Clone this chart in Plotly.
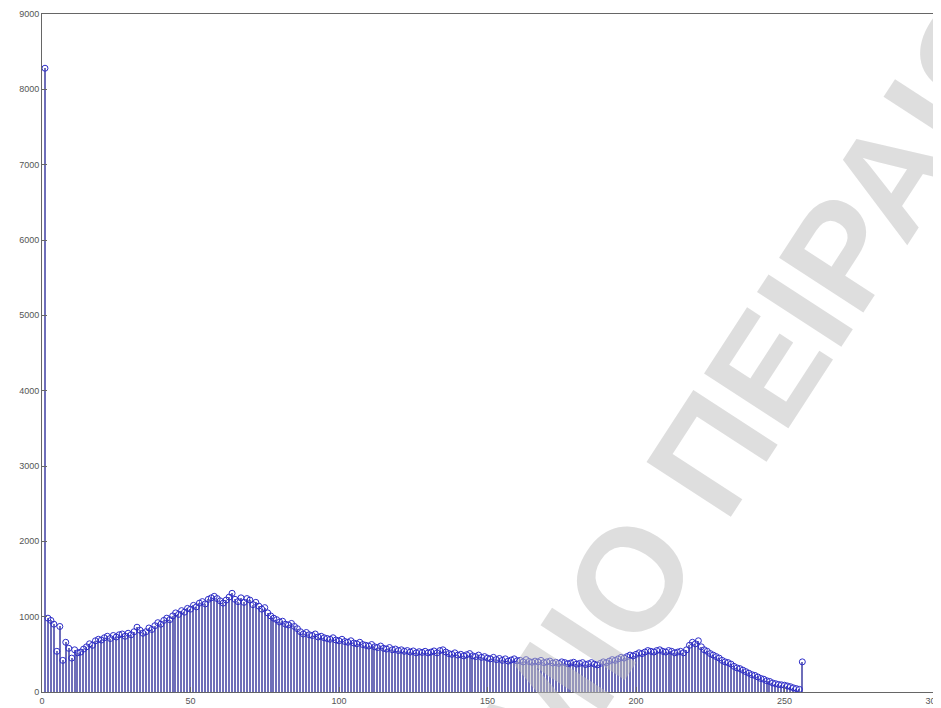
import plotly.graph_objects as go

bins = list(range(1, 257))
counts = [
    8280, 980, 950, 900, 540, 870, 420, 660, 580, 450,
    560, 520, 530, 570, 600, 640, 620, 680, 700, 690,
    720, 740, 710, 750, 730, 760, 770, 740, 780, 760,
    800, 860, 820, 780, 800, 850, 830, 880, 920, 900,
    950, 980, 960, 1010, 1050, 1030, 1080, 1060, 1110, 1100,
    1150, 1130, 1180, 1200, 1170, 1230, 1250, 1270, 1240, 1210,
    1180, 1220, 1260, 1310, 1230, 1200, 1250, 1190, 1240, 1220,
    1160, 1190, 1140, 1100, 1120, 1050, 1010, 980, 960, 930,
    940, 900, 890, 910, 870, 840, 800, 770, 790, 760,
    750, 770, 730, 740, 720, 710, 700, 720, 690, 680,
    700, 670, 660, 680, 650, 640, 660, 630, 620, 610,
    630, 600, 590, 610, 580, 570, 590, 560, 570, 550,
    560, 540, 550, 530, 545, 520, 535, 525, 540, 520,
    530, 545, 520, 550, 560, 530, 510, 500, 520, 490,
    500, 480, 495, 510, 480, 470, 490, 460, 470, 450,
    440, 460, 430, 445, 420, 440, 410, 425, 440, 415,
    420, 400, 430, 405, 395, 410, 400, 420, 390, 400,
    410, 385, 395, 380, 400, 390, 375, 385, 395, 370,
    380, 390, 365, 375, 390, 370, 360, 380, 400, 390,
    410, 430, 420, 440, 460, 450, 470, 490, 480, 500,
    520, 510, 530, 550, 540, 530, 550, 560, 540, 530,
    550, 540, 520, 530, 540, 520, 560, 620, 660, 640,
    680, 600, 560, 540, 510, 490, 470, 450, 420, 400,
    390, 370, 340, 320, 310, 290, 270, 250, 230, 220,
    200, 180, 170, 150, 140, 120, 110, 100, 95, 90,
    80, 70, 55, 45, 35, 400,
]
x_ticks = [0, 50, 100, 150, 200, 250, 300]
y_ticks = [0, 1000, 2000, 3000, 4000, 5000, 6000, 7000, 8000, 9000]
watermark = "<b>ΠΑΝΕΠΙΣΤΗΜΙΟ ΠΕΙΡΑΙΩΣ</b>"

fig = go.Figure()
fig.add_trace(go.Bar(
    x=bins, y=counts, width=0.45,
    marker=dict(color="rgb(110,110,185)", line=dict(width=0)),
    hoverinfo="skip",
))
fig.add_trace(go.Scatter(
    x=bins, y=counts, mode="markers",
    marker=dict(symbol="circle-open", size=6, color="rgb(45,45,200)", line=dict(width=1)),
))

fig.add_annotation(
    text=watermark, xref="paper", yref="paper",
    x=0.5735, y=-0.0074, xanchor="center", yanchor="middle",
    showarrow=False, textangle=-57,
    font=dict(family="Liberation Sans, Arial", size=146, color="rgba(190,190,190,0.5)"),
)

axis_common = dict(
    showline=True, mirror=True, linecolor="#666", linewidth=1,
    ticks="inside", ticklen=5, tickcolor="#666",
    showgrid=False, zeroline=False, automargin=False,
    tickfont=dict(family="Liberation Sans, Arial", size=9, color="#555"),
)
fig.update_xaxes(range=[0, 300], tickvals=x_ticks, **axis_common)
fig.update_yaxes(range=[0, 9000], tickvals=y_ticks, **axis_common)

fig.update_layout(
    width=933, height=700,
    margin=dict(l=34, r=8, t=6, b=16),
    paper_bgcolor="white", plot_bgcolor="white",
    showlegend=False, bargap=0,
)
fig.write_html("out.html")
